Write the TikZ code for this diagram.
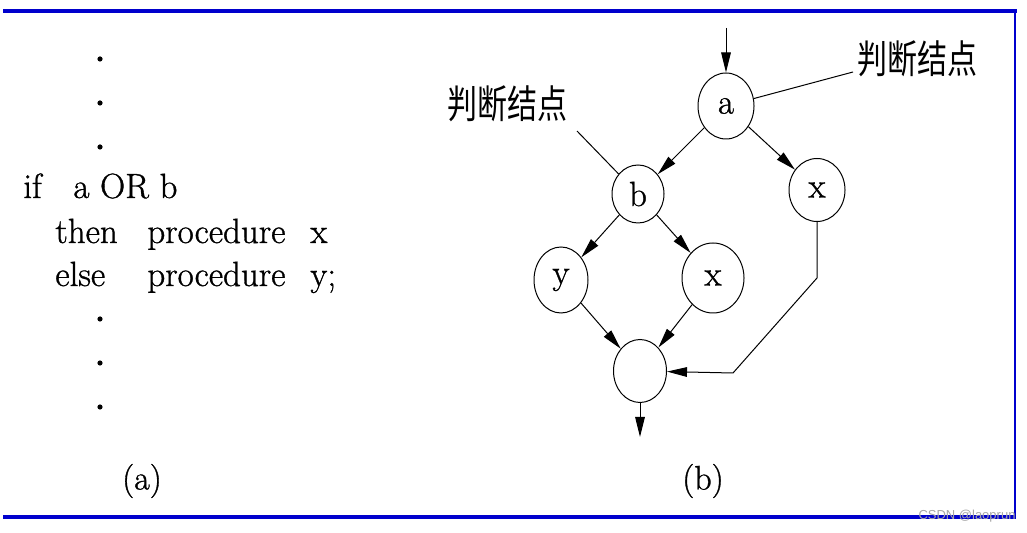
\documentclass[tikz,border=0pt]{standalone}
\usepackage{fontspec}
\newfontfamily\cjk{Noto Sans CJK SC}
\newfontfamily\wmfont{Liberation Sans}
\newfontfamily\heavyrm{Latin Modern Roman}[FakeBold=1.0]
\usetikzlibrary{arrows.meta,shapes.geometric}
\definecolor{frameblue}{RGB}{0,0,205}
\begin{document}
\begin{tikzpicture}[x=0.5pt,y=-0.5pt,
  state/.style={draw,ellipse,line width=0.5pt,inner sep=0pt,font=\heavyrm\fontsize{17.5}{20}\selectfont},
  flow/.style={draw,line width=0.5pt,-{Triangle[length=10pt,width=4.8pt]}},
  lead/.style={draw,line width=0.5pt},
  code/.style={anchor=base west,inner sep=0pt,font=\heavyrm\fontsize{17.5}{20}\selectfont},
  captext/.style={inner sep=0pt,font=\heavyrm\fontsize{17}{20}\selectfont},
  cn/.style={font=\cjk\fontsize{15}{18}\selectfont,inner sep=0pt},
  dotn/.style={fill,circle,inner sep=0pt,minimum size=2.6pt}]
\useasboundingbox (0,0) rectangle (1027,533);
% frame
\draw[frameblue,line width=1.6pt] (3,11) -- (1017,11);
\draw[frameblue,line width=0.8pt] (1015,10) -- (1015,518);
\draw[frameblue,line width=1.6pt] (3,517) -- (1016,517);
% (a) code
\node[dotn] (d1) at (100,59) {};
\node[dotn] (d2) at (100,103) {};
\node[dotn] (d3) at (100,147) {};
\node[code] (kif) at (23,198) {if};
\node[code] (cond) at (73,198) {a OR b};
\node[code] (kthen) at (55,243) {then};
\node[code] (p1) at (147,243) {procedure};
\node[code] (v1) at (310,243) {x};
\node[code] (kelse) at (55,286) {else};
\node[code] (p2) at (147,286) {procedure};
\node[code] (v2) at (310,286) {y;};
\node[dotn] (d4) at (100,319) {};
\node[dotn] (d5) at (100,363) {};
\node[dotn] (d6) at (100,407) {};
\node[captext] (capa) at (142,481) {(a)};
% (b) graph
\node[state,minimum width=28pt,minimum height=33pt] (a) at (726,106) {a};
\node[state,minimum width=26pt,minimum height=29pt] (b) at (638,194) {b};
\node[state,minimum width=28pt,minimum height=31.5pt] (xr) at (817,190) {x};
\node[state,minimum width=27pt,minimum height=33pt] (y) at (561,280) {y};
\node[state,minimum width=31pt,minimum height=35pt] (xm) at (713,278) {x};
\node[state,minimum width=26.5pt,minimum height=31.5pt] (bot) at (640,371) {};
\coordinate (in) at (726,28);
\coordinate (out) at (640,437);
\coordinate (k1) at (817,278);
\coordinate (k2) at (733,373);
\draw[flow] (in) -- (a);
\draw[flow] (a) -- (b);
\draw[flow] (a) -- (xr);
\draw[flow] (b) -- (y);
\draw[flow] (b) -- (xm);
\draw[flow] (y) -- (bot);
\draw[flow] (xm) -- (bot);
\draw[flow] (xr) -- (k1) -- (k2) -- (bot);
\draw[flow] (bot) -- (out);
% labels
\node[cn] (lblR) at (917,59) {\scalebox{1}[1.3]{判断结点}};
\node[cn] (lblL) at (507,104) {\scalebox{1}[1.3]{判断结点}};
\coordinate (lR) at (853,72);
\coordinate (lL) at (577,131);
\draw[lead] (a) -- (lR);
\draw[lead] (lL) -- (b);
\node[captext] (capb) at (703,481) {(b)};
\node[font=\wmfont\fontsize{6.5}{8}\selectfont,text=gray!70,inner sep=0pt] (wm) at (967,516) {CSDN @laoprun};
\end{tikzpicture}
\end{document}
